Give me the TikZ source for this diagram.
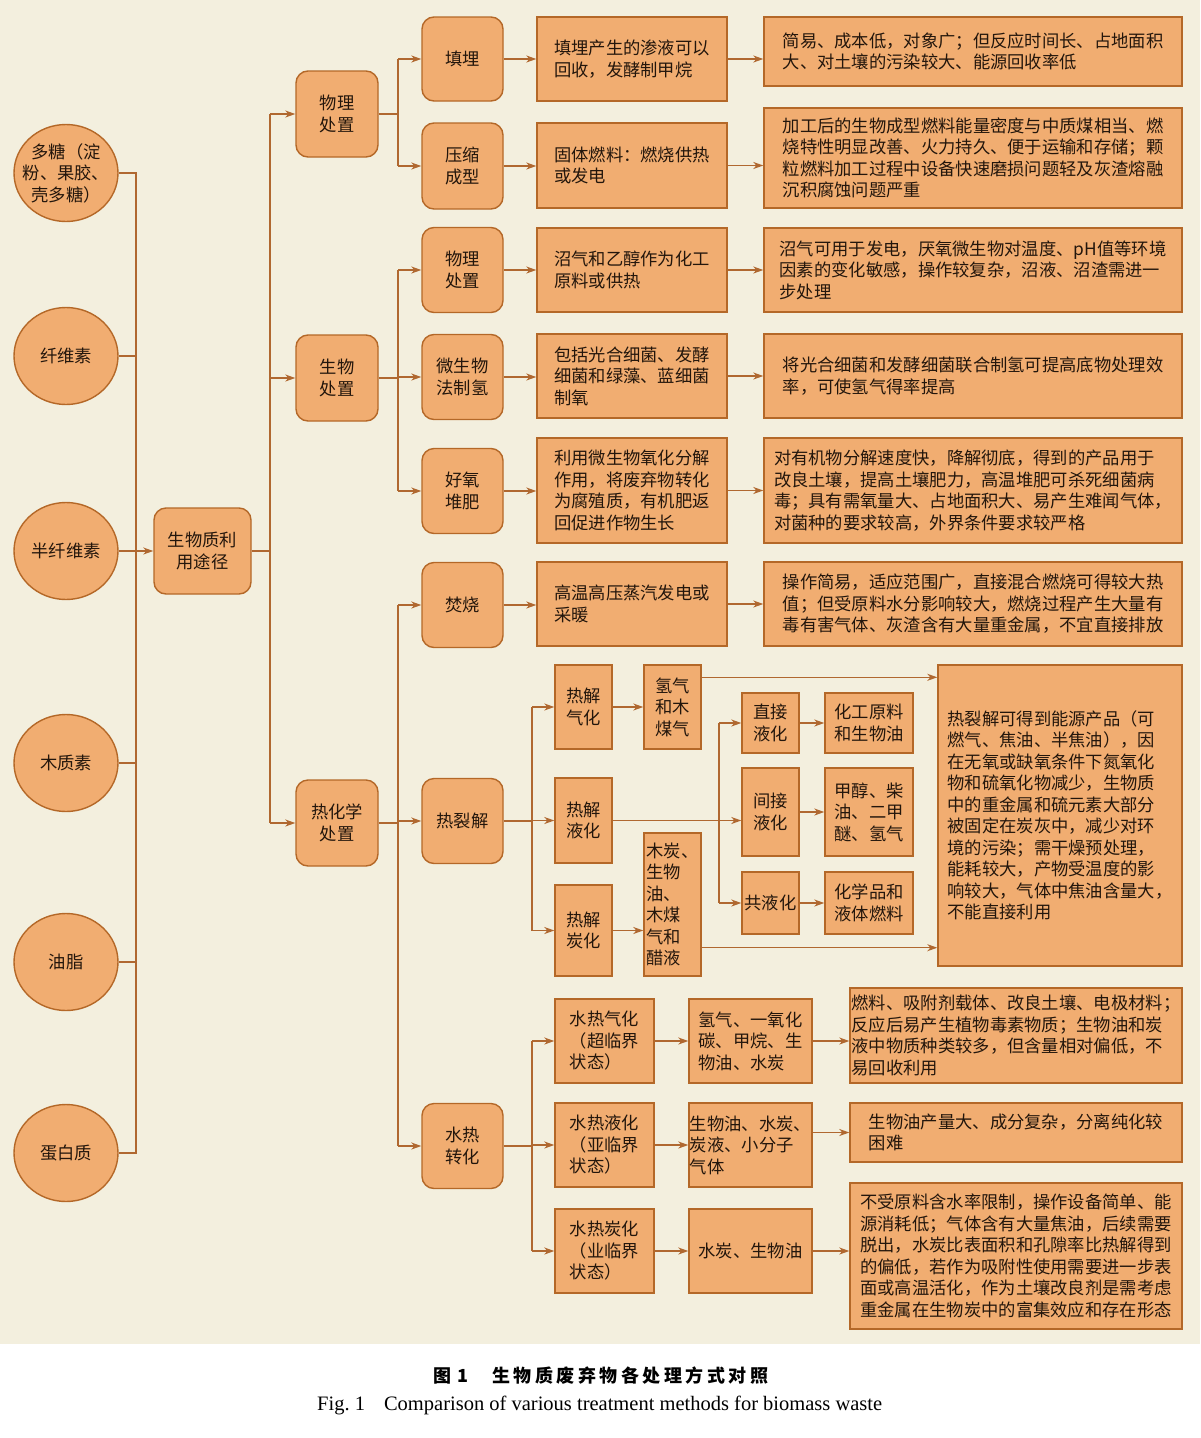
\documentclass[tikz,border=0pt]{standalone}
\usepackage{fontspec}
\setmainfont{Noto Sans CJK SC}
\newfontfamily\lserif{Liberation Serif}
\usetikzlibrary{arrows.meta,shapes.geometric,calc}
\definecolor{bgc}{RGB}{243,239,222}
\definecolor{boxf}{RGB}{241,173,113}
\definecolor{boxd}{RGB}{180,104,40}
\definecolor{linec}{RGB}{176,104,48}
\definecolor{txt}{RGB}{35,22,12}
\begin{document}
\begin{tikzpicture}[x=1pt,y=-1pt,
  every node/.style={font=\fontsize{17.3}{21.5}\selectfont, text=txt},
  base/.style={draw=boxd, fill=boxf, line width=1.4pt, inner sep=0pt, align=left},
  rbox/.style={base, rounded corners=12pt, align=center},
  sbox/.style={base},
  oval/.style={base, ellipse, align=center, minimum width=104, minimum height=97},
  ln/.style={draw=linec, line width=1.2pt},
  arr/.style={ln, -{Stealth[length=10pt,width=7pt,inset=3pt]}},
]
\useasboundingbox (0,0) rectangle (1200,1438);
\fill[white] (0,0) rectangle (1200,1438);
\fill[bgc] (0,0) rectangle (1200,1344);

\coordinate (tA) at (136,0);
\coordinate (tB) at (270,0);
\coordinate (tC) at (398,0);
\coordinate (tD) at (532,0);
\coordinate (tE) at (719,0);

% sources
\node[oval, inner xsep=-9pt, inner ysep=-2pt] (s1) at (66,173) {多糖（淀\\粉、果胶、\\壳多糖）};
\node[oval] (s2) at (66,356) {纤维素};
\node[oval] (s3) at (66,551) {半纤维素};
\node[oval] (s4) at (66,763) {木质素};
\node[oval] (s5) at (66,962) {油脂};
\node[oval] (s6) at (66,1153) {蛋白质};

\node[rbox, minimum width=97, minimum height=86] (root) at (202.5,551) {生物质利\\用途径};

% level 2
\node[rbox, minimum width=82, minimum height=86] (p1) at (337,114) {物理\\处置};
\node[rbox, minimum width=82, minimum height=86] (p2) at (337,378) {生物\\处置};
\node[rbox, minimum width=82, minimum height=86] (p3) at (337,823) {热化学\\处置};

% level 3
\node[rbox, minimum width=81, minimum height=84] (q1) at (462.5,59) {填埋};
\node[rbox, minimum width=81, minimum height=86] (q2) at (462.5,166) {压缩\\成型};
\node[rbox, minimum width=81, minimum height=85] (q3) at (462.5,270) {物理\\处置};
\node[rbox, minimum width=81, minimum height=85] (q4) at (462.5,377) {微生物\\法制氢};
\node[rbox, minimum width=81, minimum height=85] (q5) at (462.5,491) {好氧\\堆肥};
\node[rbox, minimum width=81, minimum height=85] (q6) at (462.5,605) {焚烧};
\node[rbox, minimum width=81, minimum height=85] (q7) at (462.5,821) {热裂解};
\node[rbox, minimum width=81, minimum height=85] (q8) at (462.5,1146) {水热\\转化};

% description boxes
\node[sbox, minimum width=190, minimum height=84] (d1) at (632,59) {填埋产生的渗液可以\\回收，发酵制甲烷};
\node[sbox, minimum width=190, minimum height=85] (d2) at (632,165.5) {固体燃料：燃烧供热\\或发电};
\node[sbox, minimum width=190, minimum height=84] (d3) at (632,270) {沼气和乙醇作为化工\\原料或供热};
\node[sbox, minimum width=190, minimum height=84] (d4) at (632,376) {包括光合细菌、发酵\\细菌和绿藻、蓝细菌\\制氧};
\node[sbox, minimum width=190, minimum height=105] (d5) at (632,490.5) {利用微生物氧化分解\\作用，将废弃物转化\\为腐殖质，有机肥返\\回促进作物生长};
\node[sbox, minimum width=190, minimum height=84] (d6) at (632,604) {高温高压蒸汽发电或\\采暖};

\node[sbox, minimum width=418, minimum height=69] (e1) at (973,51.5) {简易、成本低，对象广；但反应时间长、占地面积\\大、对土壤的污染较大、能源回收率低};
\node[sbox, minimum width=418, minimum height=100] (e2) at (973,158) {加工后的生物成型燃料能量密度与中质煤相当、燃\\烧特性明显改善、火力持久、便于运输和存储；颗\\粒燃料加工过程中设备快速磨损问题轻及灰渣熔融\\沉积腐蚀问题严重};
\node[sbox, minimum width=418, minimum height=84] (e3) at (973,270) {沼气可用于发电，厌氧微生物对温度、pH值等环境\\因素的变化敏感，操作较复杂，沼液、沼渣需进一\\步处理};
\node[sbox, minimum width=418, minimum height=84] (e4) at (973,376) {将光合细菌和发酵细菌联合制氢可提高底物处理效\\率，可使氢气得率提高};
\node[sbox, minimum width=418, minimum height=105] (e5) at (973,490.5) {对有机物分解速度快，降解彻底，得到的产品用于\\改良土壤，提高土壤肥力，高温堆肥可杀死细菌病\\毒；具有需氧量大、占地面积大、易产生难闻气体，\\对菌种的要求较高，外界条件要求较严格};
\node[sbox, minimum width=418, minimum height=84] (e6) at (973,604) {操作简易，适应范围广，直接混合燃烧可得较大热\\值；但受原料水分影响较大，燃烧过程产生大量有\\毒有害气体、灰渣含有大量重金属，不宜直接排放};

% pyrolysis
\node[sbox, align=center, minimum width=57, minimum height=84] (a1) at (583.5,707) {热解\\气化};
\node[sbox, align=center, minimum width=57, minimum height=85] (a2) at (583.5,820.5) {热解\\液化};
\node[sbox, align=center, minimum width=57, minimum height=91] (a3) at (583.5,930.5) {热解\\炭化};
\node[sbox, minimum width=57, minimum height=84] (b1) at (672.5,707) {氢气\\和木\\煤气};
\node[sbox, minimum width=57, minimum height=143] (b3) at (672.5,904.5) {木炭、\\生物\\油、\\木煤\\气和\\醋液};
\node[sbox, align=center, minimum width=57, minimum height=60] (l1) at (770.5,723) {直接\\液化};
\node[sbox, align=center, minimum width=57, minimum height=88] (l2) at (770.5,812) {间接\\液化};
\node[sbox, align=center, minimum width=57, minimum height=62] (l3) at (770.5,903) {共液化};
\node[sbox, minimum width=88, minimum height=60] (f1) at (869,723) {化工原料\\和生物油};
\node[sbox, minimum width=88, minimum height=88] (f2) at (869,812) {甲醇、柴\\油、二甲\\醚、氢气};
\node[sbox, minimum width=88, minimum height=62] (f3) at (869,903) {化学品和\\液体燃料};
\node[sbox, minimum width=244, minimum height=301] (g) at (1060,815.5) {热裂解可得到能源产品（可\\燃气、焦油、半焦油），因\\在无氧或缺氧条件下氮氧化\\物和硫氧化物减少，生物质\\中的重金属和硫元素大部分\\被固定在炭灰中，减少对环\\境的污染；需干燥预处理，\\能耗较大，产物受温度的影\\响较大，气体中焦油含量大，\\不能直接利用};

% hydrothermal
\node[sbox, minimum width=99, minimum height=84] (h1) at (604.5,1041) {水热气化\\（超临界\\状态）};
\node[sbox, minimum width=99, minimum height=84] (h2) at (604.5,1145) {水热液化\\（亚临界\\状态）};
\node[sbox, minimum width=99, minimum height=84] (h3) at (604.5,1251) {水热炭化\\（业临界\\状态）};
\node[sbox, minimum width=123, minimum height=84] (k1) at (750.5,1041) {氢气、一氧化\\碳、甲烷、生\\物油、水炭};
\node[sbox, minimum width=123, minimum height=84] (k2) at (750.5,1145) {生物油、水炭、\\炭液、小分子\\气体};
\node[sbox, minimum width=123, minimum height=84] (k3) at (750.5,1251) {水炭、生物油};
\node[sbox, minimum width=332, minimum height=95] (m1) at (1016,1035.5) {燃料、吸附剂载体、改良土壤、电极材料；\\反应后易产生植物毒素物质；生物油和炭\\液中物质种类较多，但含量相对偏低，不\\易回收利用};
\node[sbox, minimum width=332, minimum height=59] (m2) at (1016,1132.5) {生物油产量大、成分复杂，分离纯化较\\困难};
\node[sbox, minimum width=332, minimum height=146] (m3) at (1016,1256) {不受原料含水率限制，操作设备简单、能\\源消耗低；气体含有大量焦油，后续需要\\脱出，水炭比表面积和孔隙率比热解得到\\的偏低，若作为吸附性使用需要进一步表\\面或高温活化，作为土壤改良剂是需考虑\\重金属在生物炭中的富集效应和存在形态};

% connectors: sources
\draw[ln] (s1.east) -- (s1.east -| tA) -- (s6.east -| tA) -- (s6.east);
\draw[ln] (s2.east) -- (s2.east -| tA);
\draw[ln] (s4.east) -- (s4.east -| tA);
\draw[ln] (s5.east) -- (s5.east -| tA);
\draw[arr] (s3.east) -- (root.west);

% root to level 2
\draw[ln] (root.east) -- (root.east -| tB);
\draw[ln] (p1.west -| tB) -- (p3.west -| tB);
\foreach \n in {p1,p2,p3} \draw[arr] (\n.west -| tB) -- (\n.west);

% level 2 to level 3
\draw[ln] (p1.east) -- (p1.east -| tC);
\draw[ln] (q1.west -| tC) -- (q2.west -| tC);
\draw[ln] (p2.east) -- (p2.east -| tC);
\draw[ln] (q3.west -| tC) -- (q5.west -| tC);
\draw[ln] (p3.east) -- (p3.east -| tC);
\draw[ln] (q6.west -| tC) -- (q8.west -| tC);
\foreach \n in {q1,q2,q3,q4,q5,q6,q7,q8} \draw[arr] (\n.west -| tC) -- (\n.west);

% rows
\foreach \i in {1,...,6} {
  \draw[arr] (q\i.east) -- (q\i.east -| d\i.west);
  \draw[arr] (d\i.east) -- (d\i.east -| e\i.west);
}

% pyrolysis connectors
\draw[ln] (q7.east) -- (q7.east -| tD);
\draw[ln] (a1.west -| tD) -- (a3.west -| tD);
\foreach \n in {a1,a2,a3} \draw[arr] (\n.west -| tD) -- (\n.west);
\draw[arr] (a1.east) -- (a1.east -| b1.west);
\draw[arr] (a3.east) -- (a3.east -| b3.west);
\coordinate (b1o) at ($(b1.north east)+(0,13)$);
\coordinate (b3o) at ($(b3.south east)+(0,-29)$);
\draw[arr] (b1o) -- (b1o -| g.west);
\draw[arr] (b3o) -- (b3o -| g.west);
\draw[arr] (a2.east) -- (a2.east -| l2.west);
\draw[ln] (l1.west -| tE) -- (l3.west -| tE);
\draw[arr] (l1.west -| tE) -- (l1.west);
\draw[arr] (l3.west -| tE) -- (l3.west);
\foreach \i in {1,2,3} \draw[arr] (l\i.east) -- (f\i.west);

% hydrothermal connectors
\draw[ln] (q8.east) -- (q8.east -| tD);
\draw[ln] (h1.west -| tD) -- (h3.west -| tD);
\foreach \n in {h1,h2,h3} \draw[arr] (\n.west -| tD) -- (\n.west);
\foreach \i in {1,2,3} \draw[arr] (h\i.east) -- (k\i.west);
\draw[arr] (k1.east) -- (k1.east -| m1.west);
\draw[arr] (k2.east |- m2.west) -- (m2.west);
\draw[arr] (k3.east) -- (k3.east -| m3.west);

% caption
\def\k{\kern3.5pt}
\node[anchor=west, inner sep=0pt, text=black, font=\fontsize{18}{20}\selectfont\bfseries] (cap1) at (433,1376) {图\kern6pt 1\kern24pt 生\k 物\k 质\k 废\k 弃\k 物\k 各\k 处\k 理\k 方\k 式\k 对\k 照};
\node[anchor=west, inner sep=0pt, text=black, font=\lserif\fontsize{20.5}{22}\selectfont] (cap2) at (317,1405) {Fig.~1\hspace{19pt}Comparison of various treatment methods for biomass waste};
\end{tikzpicture}
\end{document}
